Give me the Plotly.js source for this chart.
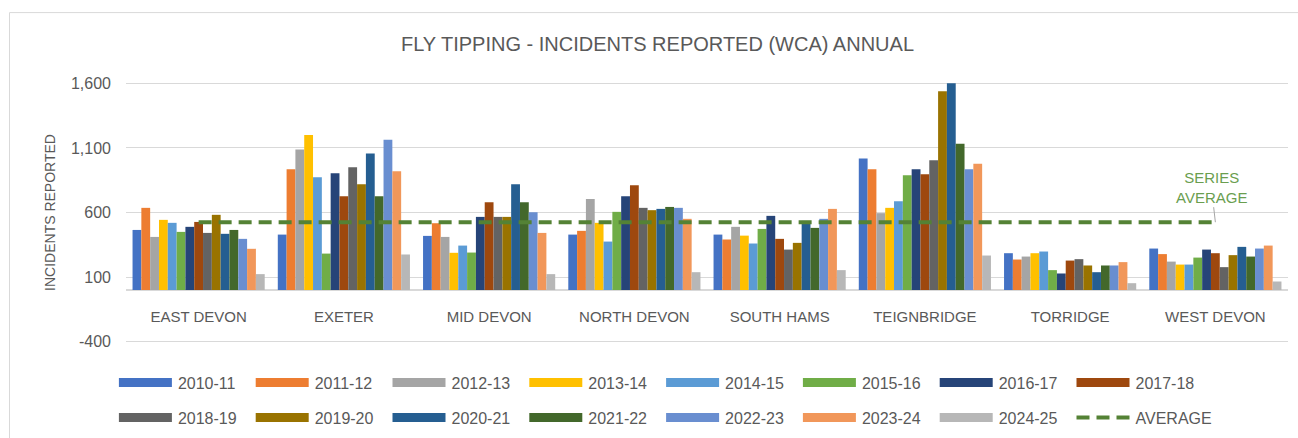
<!DOCTYPE html>
<html>
<head>
<meta charset="utf-8">
<script src="https://cdn.plot.ly/plotly-3.0.1.min.js"></script>
<style>html,body{margin:0;padding:0;background:#fff;}#chart{width:1298px;height:438px;}</style>
</head>
<body>
<div id="chart"></div>
<script>
const categories = ['EAST DEVON','EXETER','MID DEVON','NORTH DEVON','SOUTH HAMS','TEIGNBRIDGE','TORRIDGE','WEST DEVON'];
const seriesNames = ['2010-11','2011-12','2012-13','2013-14','2014-15','2015-16','2016-17','2017-18','2018-19','2019-20','2020-21','2021-22','2022-23','2023-24','2024-25'];
const v2010_11 = [465, 429, 419, 429, 429, 1017, 285, 321];
const v2011_12 = [636, 935, 517, 458, 391, 935, 236, 278];
const v2012_13 = [411, 1087, 411, 705, 489, 595, 259, 220];
const v2013_14 = [543, 1200, 288, 520, 421, 636, 285, 197];
const v2014_15 = [520, 873, 344, 375, 360, 687, 298, 197];
const v2015_16 = [450, 282, 290, 605, 473, 888, 154, 251];
const v2016_17 = [489, 904, 566, 726, 574, 935, 128, 313];
const v2017_18 = [527, 726, 680, 811, 396, 896, 228, 285];
const v2018_19 = [442, 950, 566, 636, 313, 1004, 239, 177];
const v2019_20 = [582, 819, 566, 618, 365, 1538, 190, 270];
const v2020_21 = [435, 1056, 819, 628, 535, 1600, 138, 334];
const v2021_22 = [465, 726, 680, 643, 481, 1133, 190, 259];
const v2022_23 = [396, 1164, 602, 636, 551, 935, 190, 321];
const v2023_24 = [319, 919, 442, 551, 628, 978, 216, 344];
const v2024_25 = [123, 275, 123, 138, 154, 267, 53, 66];
const averageValues = [525, 525, 525, 525, 525, 525, 525, 525];
const yTickVals = [-400, 100, 600, 1100, 1600];
const yTickText = ['-400', '100', '600', '1,100', '1,600'];

const seriesValues = [v2010_11, v2011_12, v2012_13, v2013_14, v2014_15, v2015_16, v2016_17, v2017_18, v2018_19, v2019_20, v2020_21, v2021_22, v2022_23, v2023_24, v2024_25];
const colors = ['#4472C4','#ED7D31','#A5A5A5','#FFC000','#5B9BD5','#70AD47','#264478','#9E480E','#636363','#997300','#255E91','#43682B','#698ED0','#F1975A','#B7B7B7'];

const FONT = 'Liberation Sans, Arial, sans-serif';
const GREY = '#595959';

const traces = seriesNames.map((name, i) => ({
  type: 'bar',
  name: name,
  x: categories,
  y: seriesValues[i],
  marker: {color: colors[i], line: {width: 0}},
  legend: i < 8 ? 'legend' : 'legend2',
  hoverinfo: 'skip'
}));
traces.push({
  type: 'scatter',
  mode: 'lines',
  name: 'AVERAGE',
  x: categories,
  y: averageValues,
  line: {color: '#548235', width: 4, dash: '13px,7px'},
  legend: 'legend2',
  hoverinfo: 'skip'
});

const YMIN = -410, YMAX = 1610;
const L = 126, R = 1288, T = 82, B = 343.3, W = 1298, H = 438;
const px2x = p => (p - L) / (R - L);
const px2y = p => (B - p) / (B - T);

const legendCommon = {
  orientation: 'h',
  xanchor: 'left',
  yanchor: 'middle',
  font: {family: FONT, size: 16, color: GREY},
  itemwidth: 55,
  entrywidth: 66.8,
  entrywidthmode: 'pixels',
  traceorder: 'normal',
  bgcolor: 'rgba(0,0,0,0)',
  itemclick: false,
  itemdoubleclick: false
};

const layout = {
  width: W, height: H,
  margin: {l: L, r: W - R, t: T, b: H - B, pad: 0, autoexpand: false},
  paper_bgcolor: '#ffffff',
  plot_bgcolor: '#ffffff',
  font: {family: FONT, color: GREY},
  title: {
    text: 'FLY TIPPING - INCIDENTS REPORTED (WCA) ANNUAL',
    font: {family: FONT, size: 20, color: GREY},
    xref: 'container', x: 657.5 / W, xanchor: 'center',
    yref: 'container', y: 1 - 44 / H, yanchor: 'middle'
  },
  barmode: 'group',
  bargap: 0.09,
  bargroupgap: 0,
  showlegend: true,
  legend: Object.assign({}, legendCommon, {x: px2x(112.9), y: px2y(383)}),
  legend2: Object.assign({}, legendCommon, {x: px2x(112.9), y: px2y(418)}),
  xaxis: {
    type: 'category',
    anchor: 'free',
    position: (0 - YMIN) / (YMAX - YMIN),
    showline: false,
    showgrid: false,
    zeroline: false,
    ticks: '',
    ticklabelstandoff: 16,
    tickfont: {family: FONT, size: 15, color: GREY},
    automargin: false,
    fixedrange: true
  },
  yaxis: {
    range: [YMIN, YMAX],
    tickvals: yTickVals,
    ticktext: yTickText,
    showgrid: true,
    gridcolor: '#D9D9D9',
    gridwidth: 1,
    zeroline: true,
    zerolinecolor: '#D9D9D9',
    zerolinewidth: 1.5,
    showline: false,
    ticks: '',
    ticklabelstandoff: 14,
    tickfont: {family: FONT, size: 16, color: GREY},
    title: {text: 'INCIDENTS REPORTED', font: {family: FONT, size: 14, color: GREY}, standoff: 12},
    automargin: false,
    fixedrange: true
  },
  annotations: [{
    x: 'WEST DEVON', y: averageValues[7], xref: 'x', yref: 'y',
    text: 'SERIES<br>AVERAGE',
    showarrow: true, arrowhead: 0, arrowwidth: 1, arrowcolor: '#A6A6A6',
    ax: -4, ay: -35, standoff: 0,
    font: {family: FONT, size: 15, color: '#6A9E4F'}
  }],
  shapes: [{
    type: 'rect', xref: 'paper', yref: 'paper',
    x0: px2x(9.5), x1: px2x(1320), y0: px2y(460), y1: px2y(12.5),
    line: {color: '#D9D9D9', width: 1}, fillcolor: 'rgba(0,0,0,0)', layer: 'below'
  }]
};

function widenLegendKeys(gd) {
  gd.querySelectorAll('g.legendpoints path').forEach(p => {
    const d = p.getAttribute('d') || '';
    if (d.indexOf('M6,6') === 0) p.setAttribute('d', 'M26.5,4.5H-26.5V-4.5H26.5Z');
  });
  gd.querySelectorAll('g.legendlines path').forEach(p => {
    p.setAttribute('d', 'M6,0h53');
  });
  // let the last legend label run past the fixed entry width instead of being clipped
  gd.querySelectorAll('g.legend, g.legend2, g.legend g, g.legend2 g').forEach(g => {
    if (g.hasAttribute('clip-path')) g.removeAttribute('clip-path');
  });
  gd.querySelectorAll('[class^="legend"]').forEach(g => {
    if (g.hasAttribute('clip-path')) g.removeAttribute('clip-path');
  });
  gd.querySelectorAll('.scrollbox').forEach(g => g.removeAttribute('clip-path'));
}

Plotly.newPlot('chart', traces, layout, {displayModeBar: false, staticPlot: true}).then(gd => {
  widenLegendKeys(gd);
  setTimeout(() => widenLegendKeys(gd), 50);
});
</script>
</body>
</html>
